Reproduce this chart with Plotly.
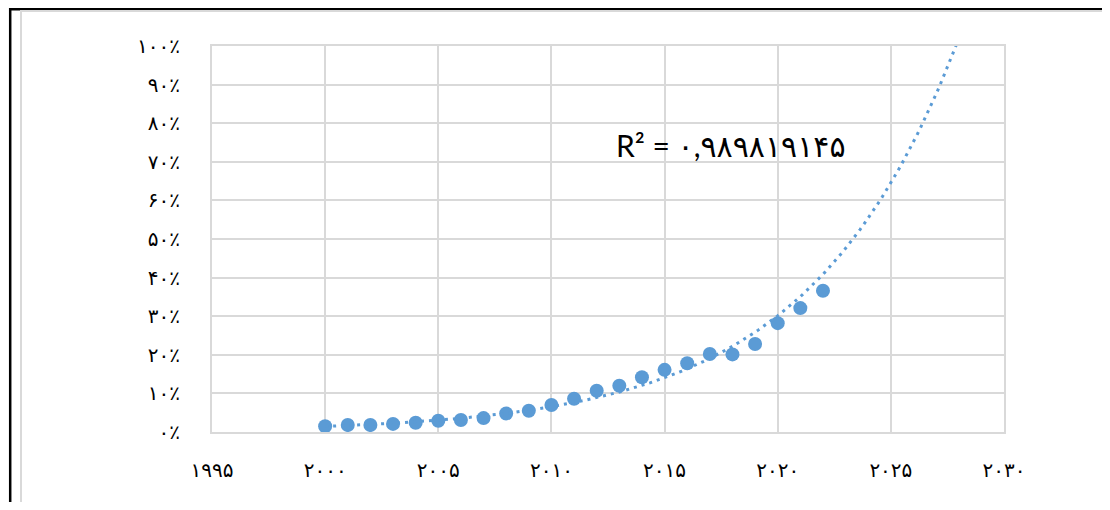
import numpy as np
import plotly.graph_objects as go

years = [2000, 2001, 2002, 2003, 2004, 2005, 2006, 2007, 2008, 2009, 2010,
         2011, 2012, 2013, 2014, 2015, 2016, 2017, 2018, 2019, 2020, 2021, 2022]
shares = [0.015, 0.018, 0.018, 0.021, 0.024, 0.029, 0.031, 0.036, 0.048, 0.055, 0.070,
          0.086, 0.107, 0.120, 0.142, 0.161, 0.178, 0.202, 0.201, 0.228, 0.282, 0.321, 0.366]

x_tickvals = [1995, 2000, 2005, 2010, 2015, 2020, 2025, 2030]
x_ticktext = ["۱۹۹۵", "۲۰۰۰", "۲۰۰۵", "۲۰۱۰", "۲۰۱۵", "۲۰۲۰", "۲۰۲۵", "۲۰۳۰"]
y_tickvals = [0, 0.1, 0.2, 0.3, 0.4, 0.5, 0.6, 0.7, 0.8, 0.9, 1.0]
y_ticktext = ["۰٪", "۱۰٪", "۲۰٪", "۳۰٪", "۴۰٪", "۵۰٪", "۶۰٪", "۷۰٪", "۸۰٪", "۹۰٪", "۱۰۰٪"]
r2_label = "R² = ۰,۹۸۹۸۱۹۱۴۵"
trend_end = 2028

# exponential trendline (least squares on log values, as Excel does)
xa = np.array(years, dtype=float)
ya = np.array(shares, dtype=float)
b, ln_a = np.polyfit(xa, np.log(ya), 1)
tx = np.linspace(years[0], trend_end, 200)
ty = np.exp(ln_a + b * tx)

BLUE = "#5B9BD5"
GRID = "#D9D9D9"

fig = go.Figure()
fig.add_trace(go.Scatter(
    x=years, y=shares, mode="markers",
    marker=dict(color=BLUE, size=14, line=dict(width=0)),
    showlegend=False, hoverinfo="skip"))
fig.add_trace(go.Scatter(
    x=tx, y=ty, mode="lines",
    line=dict(color=BLUE, width=3, dash="3px,5px"),
    showlegend=False, hoverinfo="skip"))

# page has an 8px body margin; figure coords = page coords - 8
OFF = 8
W, H = 1110 - 2 * OFF, 510 - 2 * OFF
L, R, T, B = 212 - OFF, 1004 - OFF, 46 - OFF, 432 - OFF
def px(xp):
    return (xp - OFF - L) / (R - L)
def py(yp):
    return (B - (yp - OFF)) / (B - T)

shapes = [
    dict(type="line", xref="paper", yref="paper", x0=px(9), x1=px(1106), y0=py(9.2), y1=py(9.2),
         line=dict(color="black", width=2.5)),
    dict(type="line", xref="paper", yref="paper", x0=px(10.2), x1=px(10.2), y0=py(8), y1=py(530),
         line=dict(color="black", width=2.5)),
    dict(type="rect", xref="paper", yref="paper", x0=px(21), x1=px(1104.5), y0=py(11), y1=py(540),
         line=dict(color=GRID, width=2), fillcolor="rgba(0,0,0,0)"),
]

fig.update_layout(
    width=W, height=H,
    margin=dict(l=L, r=W - R, t=T, b=H - B),
    paper_bgcolor="white", plot_bgcolor="white",
    shapes=shapes,
    font=dict(family="DejaVu Sans", color="black"),
    annotations=[dict(
        text=r2_label, xref="paper", yref="paper",
        x=px(614), y=py(145), xanchor="left", yanchor="middle",
        showarrow=False, font=dict(family="Lato, DejaVu Sans", size=30, color="black"))],
)
fig.update_xaxes(
    range=[1995, 2030], tickvals=x_tickvals, ticktext=x_ticktext,
    showgrid=True, gridcolor=GRID, gridwidth=2,
    showline=True, linecolor=GRID, linewidth=2, mirror=True,
    zeroline=False, ticks="", ticklabelstandoff=19,
    tickfont=dict(family="DejaVu Sans", size=20, color="black"))
fig.update_yaxes(
    range=[0, 1], tickvals=y_tickvals, ticktext=y_ticktext,
    showgrid=True, gridcolor=GRID, gridwidth=2,
    showline=True, linecolor=GRID, linewidth=2, mirror=True,
    zeroline=False, ticks="", ticklabelstandoff=26,
    tickfont=dict(family="DejaVu Sans", size=20, color="black"))

fig.write_html("out.html")
